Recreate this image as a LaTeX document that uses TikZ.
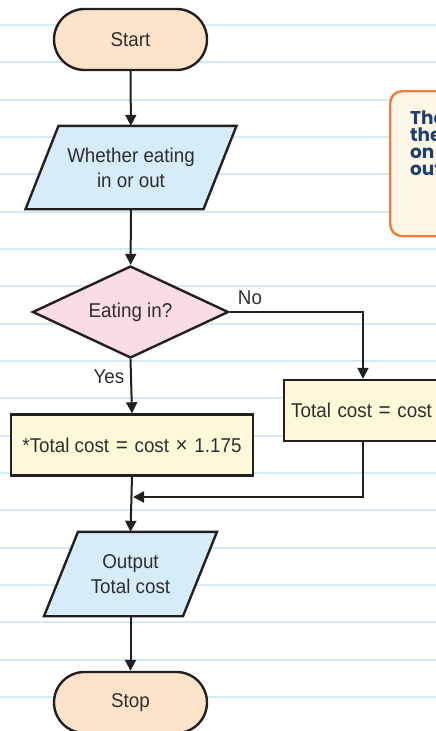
\documentclass[tikz,border=0pt]{standalone}
\usepackage{fontspec}
\setmainfont{Liberation Sans}[FakeStretch=0.94]
\newfontfamily\notefont{Poppins}
\usetikzlibrary{shapes.geometric,arrows.meta,calc}

\definecolor{ink}{HTML}{231F20}
\definecolor{txt}{HTML}{2E2E2E}
\definecolor{rulecol}{HTML}{D3EAF8}
\definecolor{peach}{HTML}{FDE3C9}
\definecolor{skyfill}{HTML}{D6ECF9}
\definecolor{pinkfill}{HTML}{FADCE8}
\definecolor{creamfill}{HTML}{FEF8D8}
\definecolor{noteedge}{HTML}{F07D3A}
\definecolor{notefill}{HTML}{FFF7E8}
\definecolor{noteink}{HTML}{1E3F6E}

\pgfdeclarelayer{ruled}
\pgfdeclarelayer{shapes}
\pgfsetlayers{ruled,shapes,main}

\tikzset{
  base/.style={font=\fontsize{20}{25}\selectfont, text=txt, align=center, inner sep=0pt},
  terminal/.style={base, draw=ink, line width=2.4pt, fill=peach,
    rounded corners=30.5pt, minimum width=153pt, minimum height=61pt},
  iobox/.style={base, minimum width=140pt, minimum height=#1},
  ioline/.style={draw=ink, fill=skyfill, line width=2.4pt, line join=miter},
  decision/.style={base, diamond, draw=ink, fill=pinkfill, line width=2.4pt,
    shape aspect=2.1, minimum width=196pt, minimum height=92pt},
  process/.style={base, draw=ink, fill=creamfill, line width=2.4pt,
    minimum height=61pt},
  lbl/.style={base},
  flow/.style={draw=ink, line width=2pt, -{Triangle[length=11pt,width=11pt]}},
}

% parallelogram drawn round a named text node: name, half width, slant
\newcommand\ioshape[3]{%
  \begin{pgfonlayer}{shapes}
    \filldraw[ioline] ([xshift=-#2pt+#3pt]#1.north) -- ([xshift=#2pt+#3pt]#1.north)
      -- ([xshift=#2pt-#3pt]#1.south) -- ([xshift=-#2pt-#3pt]#1.south) -- cycle;
  \end{pgfonlayer}}
\newcommand\opsym[1]{\,\,{\fontsize{22}{25}\selectfont #1}\,\,}

\begin{document}
\begin{tikzpicture}[x=1pt, y=-1pt]
  \useasboundingbox (0,0) rectangle (436,731);
  \clip (0,0) rectangle (436,731);

  % ruled paper
  \begin{pgfonlayer}{ruled}
    \fill[white] (0,0) rectangle (436,731);
    \foreach \k in {0,...,18}
      \draw[rulecol, line width=2pt] (0,{25+37.33*\k}) -- (436,{25+37.33*\k});
  \end{pgfonlayer}

  % side note
  \node[draw=noteedge, fill=notefill, line width=2.4pt, rounded corners=12pt,
        anchor=north west, minimum width=120pt, minimum height=145pt] (note) at (389,90) {};
  \node[anchor=north west, align=left, inner sep=0pt, text=noteink,
        font=\notefont\bfseries\fontsize{18.5}{17}\selectfont] (notetext) at (410,111)
        {The VAT\\the extra\\on meals\\out};

  % flowchart nodes
  \node[terminal] (start) at (130.5,39.5) {Start};
  \node[iobox=83pt] (inp) at (131,167.5) {Whether eating\\in or out};
  \ioshape{inp}{89}{16.5}
  \node[decision] (dec) at (130.5,312) {Eating in?};
  \node[process, minimum width=242pt] (lbox) at (132,445)
        {*Total cost\opsym{=}cost\opsym{×}1.175};
  \node[process, anchor=west, text width=186pt, align=left, inner xsep=7pt]
        (rbox) at (283,410.5) {Total cost\opsym{=}cost};
  \node[iobox=84pt] (out) at (130.5,574) {Output\\Total cost};
  \ioshape{out}{69.5}{17}
  \node[terminal] (stop) at (130.5,702.5) {Stop};

  \node[lbl] (nolab) at (250,298) {No};
  \node[lbl] (yeslab) at (109,377) {Yes};

  \coordinate (rcol) at (363,312);
  \coordinate (merge) at (131,497);

  % connectors
  \draw[flow] (start) -- (inp);
  \draw[flow] (inp) -- (dec);
  \draw[flow] (dec.east) -- (rcol) -- (rcol |- rbox.north);
  \draw[flow] (dec.south) -- (lbox.north);
  \draw[flow] (lbox.south) -- (out.north);
  \draw[flow, shorten >=2pt] (rcol |- rbox.south) -- (rcol |- merge) -- (merge);
  \draw[flow] (out.south) -- (stop.north);
\end{tikzpicture}
\end{document}
